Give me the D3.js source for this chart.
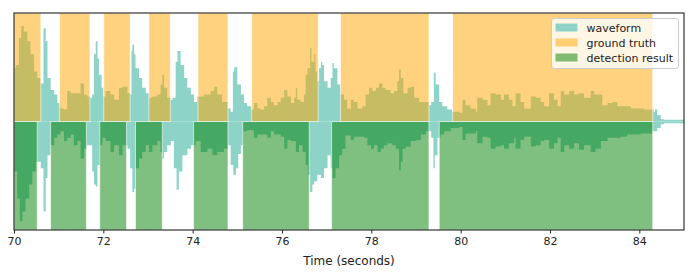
<!DOCTYPE html>
<html>
<head>
<meta charset="utf-8">
<script src="https://cdn.jsdelivr.net/npm/d3@7"></script>
<style>
  body { margin: 0; background: #fff; }
  svg { display: block; font-family: "DejaVu Sans", sans-serif; }
</style>
</head>
<body>
<svg width="697" height="274"></svg>
<script>
// waveform envelope, upper half (time in s, amplitude)
var topTime = [70.00,70.04,70.11,70.16,70.22,70.30,70.37,70.45,70.52,70.60,70.66,70.71,70.75,70.82,70.90,70.97,71.02,71.04,71.12,71.19,71.27,71.34,71.49,71.57,71.64,71.70,71.75,71.79,71.83,71.87,71.90,71.96,72.00,72.05,72.16,72.24,72.35,72.43,
  72.54,72.60,72.63,72.65,72.69,72.72,72.80,72.87,72.95,73.02,73.10,73.21,73.28,73.32,73.36,73.43,73.51,73.55,73.62,73.66,73.73,73.81,73.88,73.96,74.03,74.10,74.25,74.40,74.48,74.55,74.66,74.79,74.85,74.90,74.93,
  75.00,75.08,75.15,75.22,75.31,75.37,75.45,75.52,75.60,75.67,75.75,75.82,75.90,75.97,76.05,76.12,76.20,76.27,76.31,76.34,76.42,76.49,76.53,76.57,76.63,76.66,76.72,76.75,76.79,76.83,76.87,76.90,76.94,77.02,77.09,77.13,77.16,77.24,77.31,77.39,
  77.46,77.54,77.61,77.69,77.80,77.87,77.95,78.02,78.10,78.17,78.25,78.32,78.43,78.51,78.58,78.62,78.66,78.72,78.81,78.88,78.96,79.07,79.18,79.29,79.34,79.40,79.44,79.52,79.59,79.70,79.81,
  79.96,80.04,80.11,80.22,80.34,80.37,80.49,80.60,80.67,80.78,80.90,80.97,81.08,81.16,81.23,81.34,81.42,81.57,81.68,81.79,81.87,81.98,82.09,82.17,82.24,
  82.32,82.43,82.54,82.65,82.76,82.91,82.99,83.06,83.17,83.29,83.40,83.51,83.66,83.81,83.96,84.11,84.22,84.32,84.35,84.40,84.48,84.55,84.70,85.00];
var topAmp = [0.49,0.52,0.77,0.88,0.83,0.74,0.62,0.46,0.40,0.35,0.86,0.74,0.40,0.29,0.25,0.17,0.14,0.12,0.11,0.28,0.26,0.26,0.35,0.25,0.23,0.22,0.25,0.62,0.74,0.58,0.43,0.31,0.23,0.28,0.25,0.20,0.31,0.32,
  0.26,0.25,0.65,0.71,0.62,0.49,0.40,0.31,0.26,0.22,0.23,0.25,0.34,0.43,0.31,0.22,0.20,0.22,0.55,0.65,0.52,0.40,0.31,0.25,0.18,0.23,0.25,0.28,0.32,0.25,0.18,0.12,0.09,0.46,0.50,
  0.34,0.25,0.17,0.14,0.11,0.17,0.12,0.11,0.14,0.22,0.18,0.15,0.18,0.22,0.29,0.23,0.17,0.22,0.31,0.20,0.18,0.25,0.43,0.49,0.68,0.55,0.62,0.46,0.37,0.49,0.55,0.52,0.37,0.31,0.40,0.54,0.49,0.34,0.25,0.20,
  0.12,0.20,0.18,0.12,0.14,0.25,0.31,0.28,0.31,0.35,0.31,0.29,0.26,0.28,0.37,0.48,0.40,0.26,0.31,0.32,0.22,0.18,0.18,0.15,0.18,0.45,0.34,0.18,0.14,0.11,0.09,
  0.08,0.20,0.15,0.12,0.09,0.22,0.20,0.15,0.26,0.25,0.20,0.25,0.20,0.14,0.26,0.18,0.12,0.23,0.22,0.18,0.14,0.26,0.20,0.14,0.28,
  0.25,0.28,0.25,0.26,0.22,0.28,0.25,0.25,0.15,0.17,0.18,0.14,0.14,0.12,0.12,0.11,0.11,0.09,0.11,0.06,0.02,0.015,0.015,0.01];

// waveform envelope, lower half (time in s, amplitude below zero)
var botTime = [70.00,70.07,70.13,70.19,70.26,70.34,70.41,70.49,70.54,70.60,70.66,70.71,70.75,70.82,70.90,70.97,71.04,71.12,71.19,71.27,71.34,71.42,71.49,71.57,71.63,71.70,71.75,71.79,71.83,71.87,71.93,71.98,72.05,72.16,72.24,72.35,72.43,
  72.54,72.60,72.65,72.69,72.72,72.80,72.87,72.95,73.02,73.10,73.21,73.28,73.32,73.36,73.43,73.51,73.58,73.64,73.69,73.77,73.88,73.96,74.07,74.18,74.33,74.44,74.55,74.70,74.79,74.85,74.91,74.97,
  75.02,75.08,75.13,75.22,75.37,75.45,75.52,75.67,75.75,75.82,75.97,76.05,76.12,76.20,76.31,76.38,76.46,76.53,76.58,76.63,76.68,76.72,76.79,76.87,76.94,77.02,77.09,77.13,77.20,77.28,77.35,
  77.42,77.54,77.61,77.72,77.84,77.91,77.99,78.06,78.14,78.21,78.28,78.36,78.47,78.55,78.62,78.66,78.70,78.77,78.88,79.01,79.11,79.22,79.29,79.34,79.39,79.42,79.48,79.55,79.63,79.78,
  79.96,80.04,80.11,80.22,80.34,80.37,80.49,80.60,80.67,80.78,80.90,80.97,81.08,81.20,81.23,81.34,81.42,81.57,81.68,81.79,81.87,81.98,82.09,82.17,82.24,
  82.32,82.43,82.54,82.65,82.76,82.91,83.02,83.14,83.29,83.43,83.58,83.73,83.88,84.03,84.18,84.29,84.35,84.40,84.48,84.55,85.00];
var botAmp = [0.46,0.71,0.92,0.83,0.71,0.58,0.46,0.37,0.37,0.43,0.83,0.52,0.31,0.22,0.15,0.12,0.09,0.18,0.15,0.12,0.22,0.18,0.34,0.25,0.22,0.22,0.46,0.58,0.60,0.40,0.22,0.15,0.18,0.28,0.22,0.31,0.22,
  0.25,0.43,0.65,0.62,0.43,0.34,0.28,0.22,0.28,0.22,0.18,0.28,0.34,0.28,0.22,0.18,0.43,0.63,0.46,0.31,0.25,0.22,0.18,0.28,0.25,0.31,0.28,0.25,0.22,0.40,0.49,0.43,
  0.30,0.22,0.09,0.08,0.15,0.12,0.12,0.15,0.09,0.12,0.14,0.25,0.17,0.18,0.28,0.22,0.28,0.40,0.49,0.65,0.58,0.55,0.49,0.52,0.43,0.31,0.43,0.52,0.43,0.31,0.25,
  0.13,0.17,0.14,0.14,0.15,0.22,0.25,0.22,0.28,0.25,0.22,0.20,0.22,0.25,0.45,0.37,0.25,0.23,0.18,0.17,0.12,0.09,0.09,0.15,0.43,0.31,0.15,0.12,0.09,0.06,
  0.05,0.17,0.11,0.11,0.09,0.20,0.14,0.15,0.25,0.23,0.22,0.25,0.20,0.15,0.25,0.17,0.14,0.23,0.22,0.18,0.17,0.25,0.20,0.15,0.28,
  0.22,0.25,0.20,0.26,0.22,0.28,0.25,0.18,0.15,0.15,0.14,0.12,0.12,0.11,0.11,0.09,0.09,0.06,0.025,0.015,0.01];

// labelled segments (start, end) in seconds
var truthStart = [70.00, 71.02, 72.01, 73.02, 74.12, 75.32, 77.31, 79.82];
var truthEnd   = [70.60, 71.70, 72.60, 73.50, 74.79, 76.81, 79.29, 84.30];
var detectStart = [70.00, 70.82, 71.92, 72.72, 74.02, 75.12, 77.11, 79.52];
var detectEnd   = [70.52, 71.62, 72.52, 73.32, 74.79, 76.61, 79.29, 84.30];

var xTicks = [70, 72, 74, 76, 78, 80, 82, 84];
var legendLabels = ['waveform', 'ground truth', 'detection result'];

var waveColor = '#8dd3c7';
var truthColor = '#ffa500';
var detectColor = '#008000';

var svg = d3.select('svg');
var margin = {left: 14, right: 13, top: 13, bottom: 44};
var width = 697, height = 274;

var x = d3.scaleLinear().domain([70, 85]).range([margin.left, width - margin.right]);
var y = d3.scaleLinear().domain([-1, 1]).range([height - margin.bottom, margin.top]);

svg.append('clipPath').attr('id', 'plotClip')
  .append('rect')
  .attr('x', x(70)).attr('y', y(1))
  .attr('width', x(85) - x(70)).attr('height', y(-1) - y(1));

var plot = svg.append('g').attr('clip-path', 'url(#plotClip)');

var topPts = topTime.map(function(t, i) { return [t, topAmp[i]]; });
var botPts = botTime.map(function(t, i) { return [t, botAmp[i]]; });

// step curve keeps the hard vertical onsets of the dense waveform
var upperArea = d3.area()
  .curve(d3.curveStepAfter)
  .x(function(d) { return x(d[0]); })
  .y0(y(0))
  .y1(function(d) { return y(d[1]); });
var lowerArea = d3.area()
  .curve(d3.curveStepAfter)
  .x(function(d) { return x(d[0]); })
  .y0(y(0))
  .y1(function(d) { return y(-d[1]); });

plot.append('path').datum(topPts).attr('d', upperArea).attr('fill', waveColor);
plot.append('path').datum(botPts).attr('d', lowerArea).attr('fill', waveColor);

// ground truth: upper half
plot.append('g').selectAll('rect').data(truthStart).enter()
  .append('rect')
  .attr('x', function(d) { return x(d); })
  .attr('y', y(1))
  .attr('width', function(d, i) { return x(truthEnd[i]) - x(d); })
  .attr('height', y(0) - y(1))
  .attr('fill', truthColor)
  .attr('fill-opacity', 0.5)
  .attr('stroke', '#fff')
  .attr('stroke-opacity', 0.6)
  .attr('stroke-width', 1);

// detection result: lower half
plot.append('g').selectAll('rect').data(detectStart).enter()
  .append('rect')
  .attr('x', function(d) { return x(d); })
  .attr('y', y(0))
  .attr('width', function(d, i) { return x(detectEnd[i]) - x(d); })
  .attr('height', y(-1) - y(0))
  .attr('fill', detectColor)
  .attr('fill-opacity', 0.5)
  .attr('stroke', '#fff')
  .attr('stroke-opacity', 0.6)
  .attr('stroke-width', 1);

// axis
var xAxis = d3.axisBottom(x).tickValues(xTicks).tickSize(3.5).tickPadding(3.5).tickFormat(d3.format('d'));
var axisG = svg.append('g').attr('transform', 'translate(0,' + y(-1) + ')').call(xAxis);
axisG.select('.domain').remove();
axisG.selectAll('line').attr('stroke', '#222');
axisG.selectAll('text').attr('font-size', '11px').attr('fill', '#222').attr('font-family', 'DejaVu Sans');

svg.append('rect')
  .attr('x', x(70)).attr('y', y(1))
  .attr('width', x(85) - x(70)).attr('height', y(-1) - y(1))
  .attr('fill', 'none').attr('stroke', '#222').attr('stroke-width', 1.1);

svg.append('text')
  .attr('x', (x(70) + x(85)) / 2)
  .attr('y', 265)
  .attr('text-anchor', 'middle')
  .attr('font-size', '12px')
  .attr('fill', '#222')
  .text('Time (seconds)');

// legend
var legend = svg.append('g').attr('transform', 'translate(551.5,18.5)');
legend.append('rect')
  .attr('width', 127).attr('height', 50).attr('rx', 2.5)
  .attr('fill', '#fff').attr('fill-opacity', 0.8)
  .attr('stroke', '#ccc').attr('stroke-width', 1);
var swatchFill = [waveColor, truthColor, detectColor];
var swatchOpacity = [1, 0.5, 0.5];
legendLabels.forEach(function(label, i) {
  var row = legend.append('g').attr('transform', 'translate(4,' + (5 + i * 15) + ')');
  row.append('rect')
    .attr('width', 22).attr('height', 8)
    .attr('fill', swatchFill[i]).attr('fill-opacity', swatchOpacity[i]);
  row.append('text')
    .attr('x', 31).attr('y', 8)
    .attr('font-size', '11px')
    .attr('fill', '#222')
    .text(label);
});
</script>
</body>
</html>
